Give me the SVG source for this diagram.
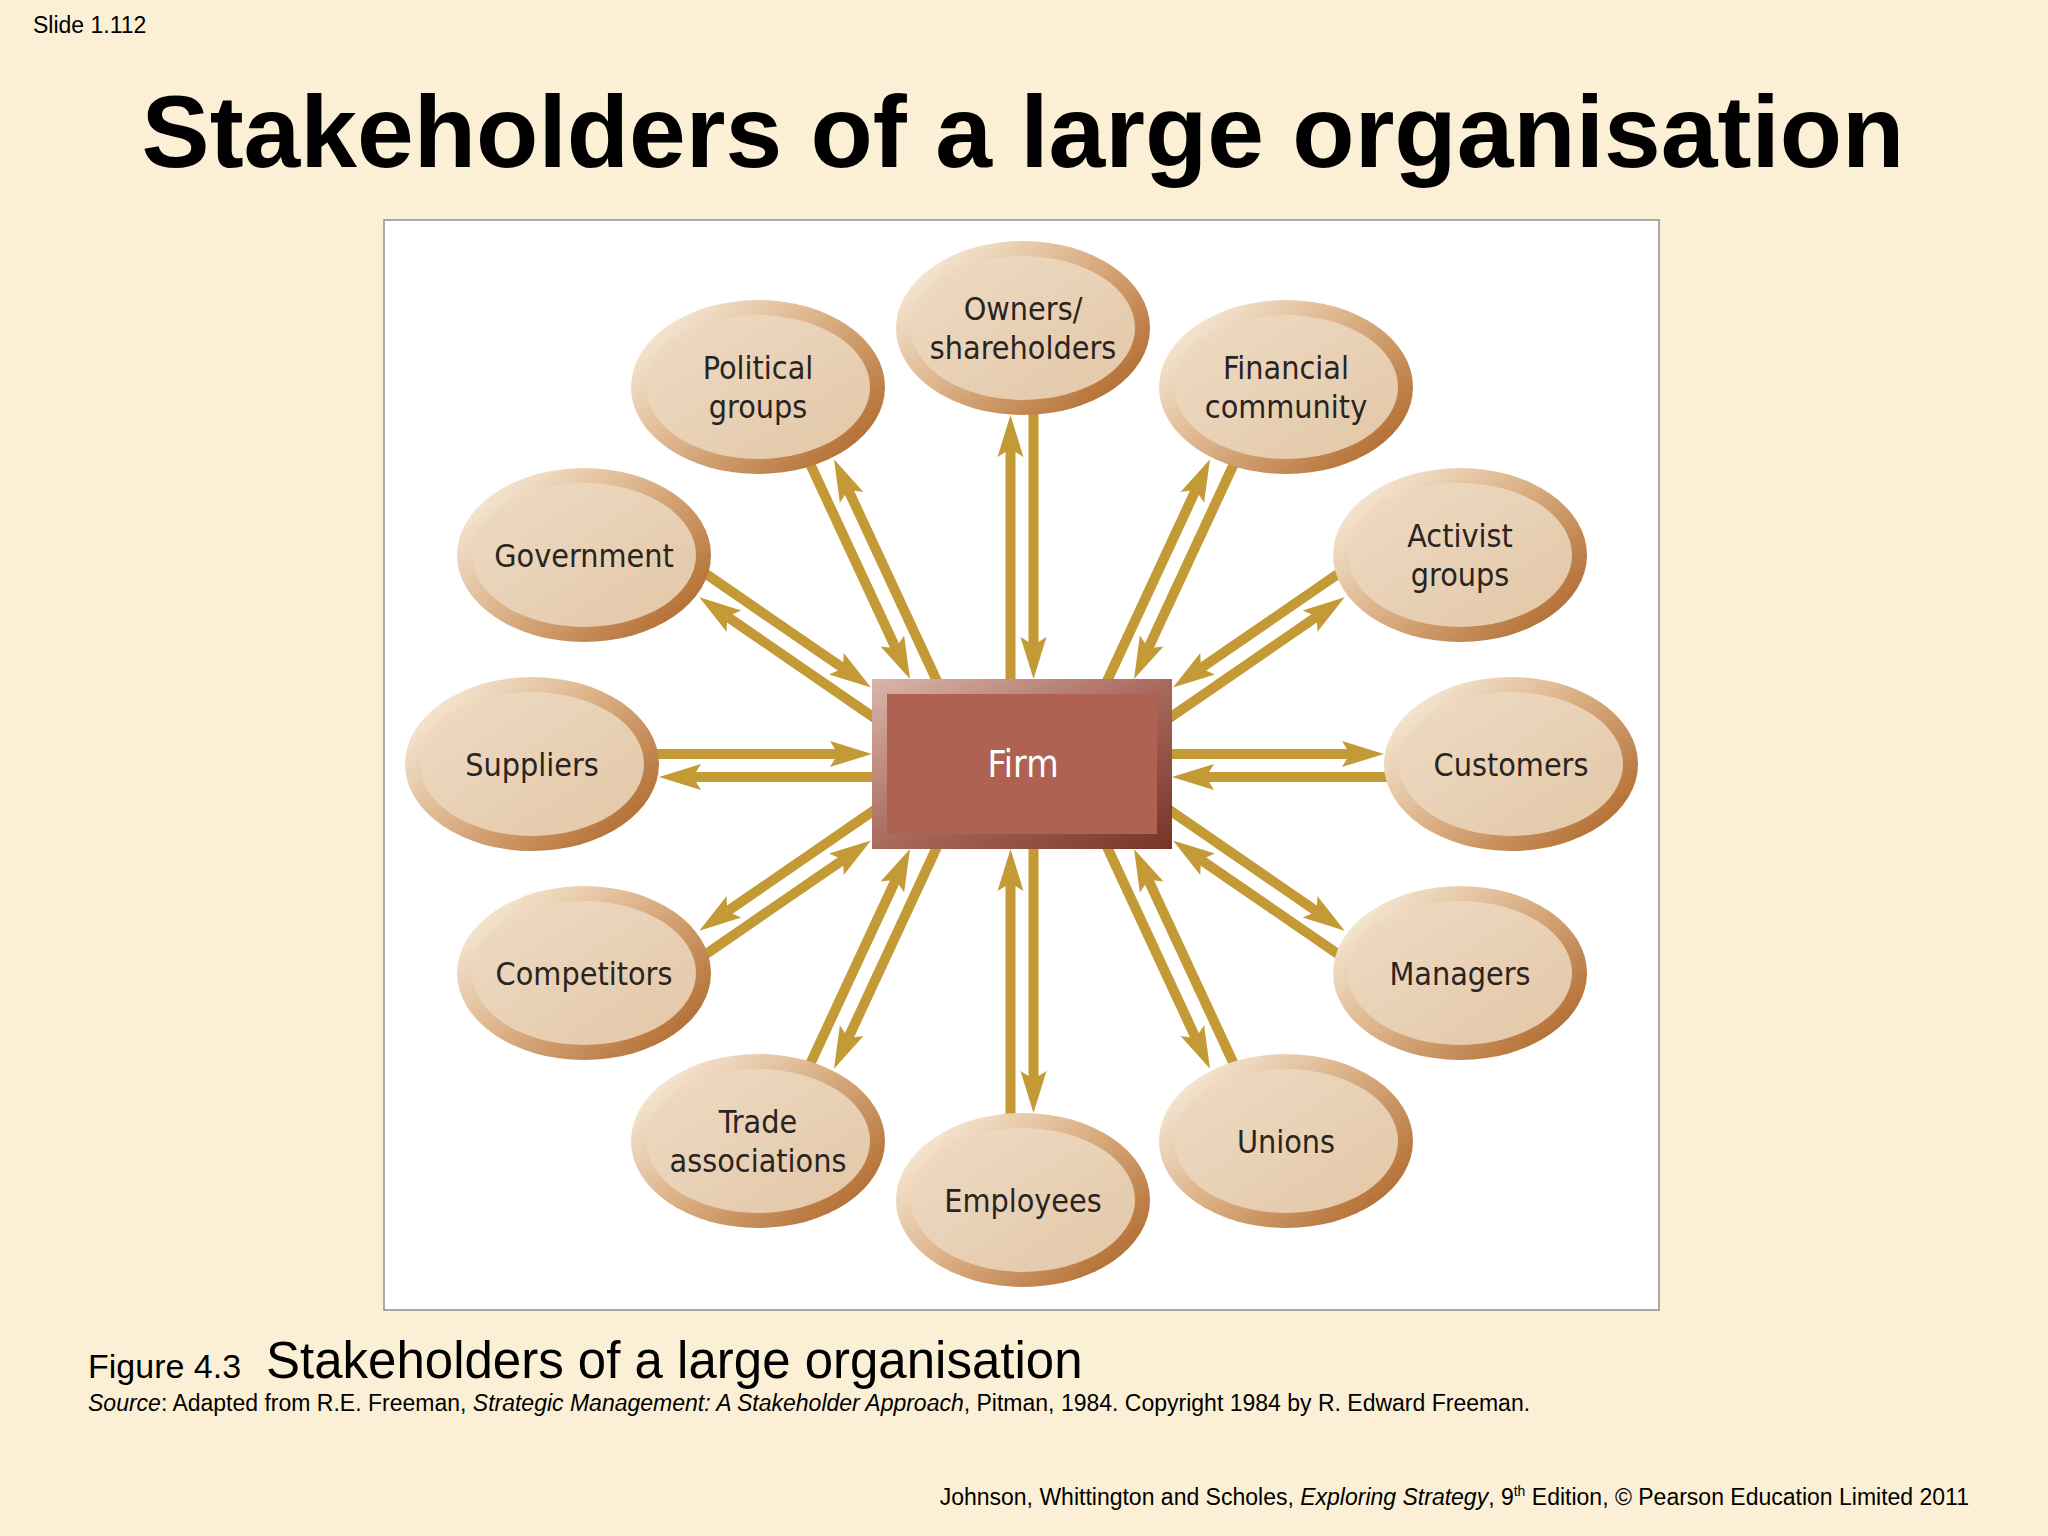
<svg xmlns="http://www.w3.org/2000/svg" width="2048" height="1536" viewBox="0 0 2048 1536">
<defs>
<style>
.bg{fill:#FBF0D5}
.frame{fill:#FFFFFF;stroke:#8E8E8E;stroke-width:1.5}
.ring{fill:url(#ringGrad)}
.face{fill:url(#faceGrad)}
.lbl{font-family:"DejaVu Sans Condensed","DejaVu Sans",sans-serif;font-stretch:condensed;font-size:32px;fill:#2A2420;text-anchor:middle}
.firmlbl{font-family:"DejaVu Sans Condensed","DejaVu Sans",sans-serif;font-stretch:condensed;font-size:37px;fill:#FFFFFF;text-anchor:middle}
.arr{stroke:#C49A36;stroke-width:10;fill:none;marker-end:url(#head)}
.sans{font-family:"Liberation Sans",Arial,sans-serif;fill:#000000}
</style>
<linearGradient id="ringGrad" x1="0.05" y1="0.15" x2="0.95" y2="0.85">
<stop offset="0" stop-color="#F7EBD9"/>
<stop offset="0.45" stop-color="#DCB288"/>
<stop offset="1" stop-color="#B06A2E"/>
</linearGradient>
<linearGradient id="faceGrad" x1="0" y1="0" x2="1" y2="1">
<stop offset="0" stop-color="#EEDCC5"/>
<stop offset="1" stop-color="#E3C6A6"/>
</linearGradient>
<linearGradient id="boxGrad" x1="0" y1="0" x2="1" y2="1">
<stop offset="0" stop-color="#DAB6AB"/>
<stop offset="0.5" stop-color="#A86A5C"/>
<stop offset="1" stop-color="#763427"/>
</linearGradient>
<marker id="head" markerUnits="userSpaceOnUse" orient="auto" refX="8" refY="0" markerWidth="50" markerHeight="30" viewBox="0 -15 50 30" overflow="visible">
<path d="M42,0 L0,-13 L8,0 L0,13 Z" fill="#C49A36"/>
</marker>
</defs>

<rect class="bg" x="0" y="0" width="2048" height="1536"/>
<text class="sans" x="33" y="33" font-size="23">Slide 1.112</text>
<text class="sans" x="1023" y="167" font-size="102" font-weight="bold" text-anchor="middle">Stakeholders of a large organisation</text>

<rect class="frame" x="384" y="220" width="1275" height="1090"/>

<g id="connectors">
<path class="arr" d="M1010.5,684 L1010.5,449"/>
<path class="arr" d="M1033.5,405 L1033.5,645"/>
<path class="arr" d="M1010.5,1123 L1010.5,883"/>
<path class="arr" d="M1033.5,844 L1033.5,1079"/>
<path class="arr" d="M650,754 L838,754"/>
<path class="arr" d="M877,777 L693,777"/>
<path class="arr" d="M1167,754 L1350,754"/>
<path class="arr" d="M1393,777 L1206,777"/>
<path class="arr" d="M703.4,572.2 L843.0,668.2"/>
<path class="arr" d="M876.9,719.6 L727.3,616.6"/>
<path class="arr" d="M703.4,955.8 L843.0,859.8"/>
<path class="arr" d="M876.9,808.4 L727.3,911.4"/>
<path class="arr" d="M1340.6,572.2 L1201.0,668.2"/>
<path class="arr" d="M1167.1,719.6 L1316.7,616.6"/>
<path class="arr" d="M1340.6,955.8 L1201.0,859.8"/>
<path class="arr" d="M1167.1,808.4 L1316.7,911.4"/>
<path class="arr" d="M809.3,462.2 L895.7,648.2"/>
<path class="arr" d="M938.5,684.4 L848.3,490.1"/>
<path class="arr" d="M809.3,1065.8 L895.7,879.8"/>
<path class="arr" d="M938.5,843.6 L848.3,1037.9"/>
<path class="arr" d="M1234.7,462.2 L1148.3,648.2"/>
<path class="arr" d="M1105.5,684.4 L1195.7,490.1"/>
<path class="arr" d="M1234.7,1065.8 L1148.3,879.8"/>
<path class="arr" d="M1105.5,843.6 L1195.7,1037.9"/>
</g>

<g id="firm">
<rect x="872" y="679" width="300" height="170" fill="url(#boxGrad)"/>
<rect x="887" y="694" width="270" height="140" fill="#B06252"/>
<text class="firmlbl" x="1023" y="777">Firm</text>
</g>

<g id="owners">
<ellipse class="ring" cx="1023" cy="328" rx="127" ry="87"/>
<ellipse class="face" cx="1023" cy="328" rx="112" ry="72"/>
<text class="lbl" x="1023" y="320">Owners/</text>
<text class="lbl" x="1023" y="359">shareholders</text>
</g>

<g id="political">
<ellipse class="ring" cx="758" cy="387" rx="127" ry="87"/>
<ellipse class="face" cx="758" cy="387" rx="112" ry="72"/>
<text class="lbl" x="758" y="379">Political</text>
<text class="lbl" x="758" y="418">groups</text>
</g>

<g id="financial">
<ellipse class="ring" cx="1286" cy="387" rx="127" ry="87"/>
<ellipse class="face" cx="1286" cy="387" rx="112" ry="72"/>
<text class="lbl" x="1286" y="379">Financial</text>
<text class="lbl" x="1286" y="418">community</text>
</g>

<g id="government">
<ellipse class="ring" cx="584" cy="555" rx="127" ry="87"/>
<ellipse class="face" cx="584" cy="555" rx="112" ry="72"/>
<text class="lbl" x="584" y="567">Government</text>
</g>

<g id="activist">
<ellipse class="ring" cx="1460" cy="555" rx="127" ry="87"/>
<ellipse class="face" cx="1460" cy="555" rx="112" ry="72"/>
<text class="lbl" x="1460" y="547">Activist</text>
<text class="lbl" x="1460" y="586">groups</text>
</g>

<g id="suppliers">
<ellipse class="ring" cx="532" cy="764" rx="127" ry="87"/>
<ellipse class="face" cx="532" cy="764" rx="112" ry="72"/>
<text class="lbl" x="532" y="776">Suppliers</text>
</g>

<g id="customers">
<ellipse class="ring" cx="1511" cy="764" rx="127" ry="87"/>
<ellipse class="face" cx="1511" cy="764" rx="112" ry="72"/>
<text class="lbl" x="1511" y="776">Customers</text>
</g>

<g id="competitors">
<ellipse class="ring" cx="584" cy="973" rx="127" ry="87"/>
<ellipse class="face" cx="584" cy="973" rx="112" ry="72"/>
<text class="lbl" x="584" y="985">Competitors</text>
</g>

<g id="managers">
<ellipse class="ring" cx="1460" cy="973" rx="127" ry="87"/>
<ellipse class="face" cx="1460" cy="973" rx="112" ry="72"/>
<text class="lbl" x="1460" y="985">Managers</text>
</g>

<g id="trade">
<ellipse class="ring" cx="758" cy="1141" rx="127" ry="87"/>
<ellipse class="face" cx="758" cy="1141" rx="112" ry="72"/>
<text class="lbl" x="758" y="1133">Trade</text>
<text class="lbl" x="758" y="1172">associations</text>
</g>

<g id="unions">
<ellipse class="ring" cx="1286" cy="1141" rx="127" ry="87"/>
<ellipse class="face" cx="1286" cy="1141" rx="112" ry="72"/>
<text class="lbl" x="1286" y="1153">Unions</text>
</g>

<g id="employees">
<ellipse class="ring" cx="1023" cy="1200" rx="127" ry="87"/>
<ellipse class="face" cx="1023" cy="1200" rx="112" ry="72"/>
<text class="lbl" x="1023" y="1212">Employees</text>
</g>

<text class="sans" x="88" y="1378" font-size="34">Figure 4.3</text>
<text class="sans" x="266" y="1378" font-size="51">Stakeholders of a large organisation</text>
<text class="sans" x="88" y="1411" font-size="23"><tspan font-style="italic">Source</tspan>: Adapted from R.E. Freeman, <tspan font-style="italic">Strategic Management: A Stakeholder Approach</tspan>, Pitman, 1984. Copyright 1984 by R. Edward Freeman.</text>
<text class="sans" x="1969" y="1505" font-size="23" text-anchor="end">Johnson, Whittington and Scholes, <tspan font-style="italic">Exploring Strategy</tspan>, 9<tspan font-size="14" dy="-9">th</tspan><tspan dy="9"> Edition, © Pearson Education Limited 2011</tspan></text>
</svg>
